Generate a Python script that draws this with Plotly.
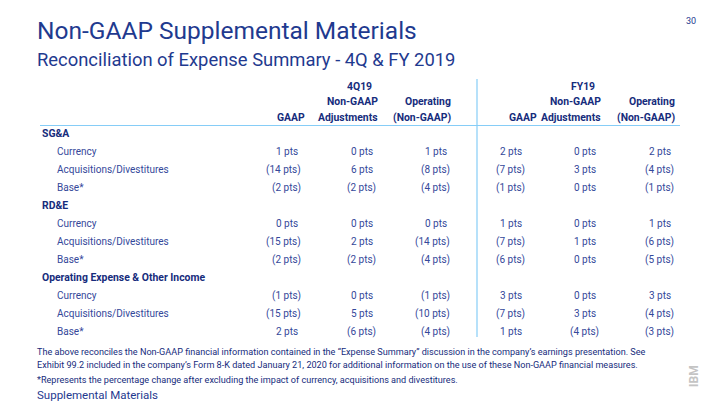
import plotly.graph_objects as go

# ---------------- data ----------------
sections = ["SG&A", "RD&E", "Operating Expense & Other Income"]
items = ["Currency", "Acquisitions/Divestitures", "Base*"]

period_labels = ["4Q19", "FY19"]
col_headers_top = ["", "Non-GAAP", "Operating", "", "Non-GAAP", "Operating"]
col_headers_bottom = ["GAAP", "Adjustments", "(Non-GAAP)", "GAAP", "Adjustments", "(Non-GAAP)"]

gaap_4q = ["1 pts", "(14 pts)", "(2 pts)", "0 pts", "(15 pts)", "(2 pts)", "(1 pts)", "(15 pts)", "2 pts"]
adj_4q = ["0 pts", "6 pts", "(2 pts)", "0 pts", "2 pts", "(2 pts)", "0 pts", "5 pts", "(6 pts)"]
op_4q = ["1 pts", "(8 pts)", "(4 pts)", "0 pts", "(14 pts)", "(4 pts)", "(1 pts)", "(10 pts)", "(4 pts)"]
gaap_fy = ["2 pts", "(7 pts)", "(1 pts)", "1 pts", "(7 pts)", "(6 pts)", "3 pts", "(7 pts)", "1 pts"]
adj_fy = ["0 pts", "3 pts", "0 pts", "0 pts", "1 pts", "0 pts", "0 pts", "3 pts", "(4 pts)"]
op_fy = ["2 pts", "(4 pts)", "(1 pts)", "1 pts", "(6 pts)", "(5 pts)", "3 pts", "(4 pts)", "(3 pts)"]

columns = [gaap_4q, adj_4q, op_4q, gaap_fy, adj_fy, op_fy]

title = "Non-GAAP Supplemental Materials"
subtitle = "Reconciliation of Expense Summary - 4Q & FY 2019"
page_no = "30"
footnote1 = ("The above reconciles the Non-GAAP financial information contained in the \u201cExpense Summary\u201d "
             "discussion in the company\u2019s earnings presentation. See")
footnote2 = ("Exhibit 99.2 included in the company\u2019s Form 8-K dated January 21, 2020 for additional "
             "information on the use of these Non-GAAP financial measures.")
footnote3 = "*Represents the percentage change after excluding the impact of currency, acquisitions and divestitures."
footer = "Supplemental Materials"

# ---------------- style ----------------
W, H = 720, 405
FONT = "Roboto"
C_TITLE = "#1f3a8f"
C_BOLD = "#162c7c"
C_TEXT = "#34489a"
C_LINE = "#86cdf7"
COL0_PX, COL_STEP_PX = 303.0, 74.6
ROW0_PX, ROW_STEP_PX = 133.5, 18.0

x0 = -COL0_PX / COL_STEP_PX
x1 = x0 + W / COL_STEP_PX
ytop = -ROW0_PX / ROW_STEP_PX
ybot = ytop + H / ROW_STEP_PX


def px2x(px):
    return (px - COL0_PX) / COL_STEP_PX


def px2y(py):
    return (py - ROW0_PX) / ROW_STEP_PX


fig = go.Figure()
fig.add_trace(go.Scatter(x=[0, 5], y=[0, 11], mode="markers", marker=dict(opacity=0),
                         hoverinfo="skip", showlegend=False))

ann = []

# row labels and values
row = 0
for s_i, sec in enumerate(sections):
    ann.append(dict(x=px2x(40), y=row, text="<b>%s</b>" % sec, xanchor="left", yanchor="middle",
                    font=dict(size=10.4, color=C_BOLD)))
    row += 1
    for it_i, it in enumerate(items):
        ann.append(dict(x=px2x(55), y=row, text=it, xanchor="left", yanchor="middle",
                        font=dict(size=10, color=C_TEXT)))
        idx = s_i * 3 + it_i
        for c_i, col in enumerate(columns):
            v = col[idx]
            ann.append(dict(x=c_i, y=row, text=v, xanchor="right", yanchor="middle",
                            xshift=0 if v.endswith(")") else -3,
                            font=dict(size=10, color=C_TEXT)))
        row += 1

# column headers
hdr_shift = [4, 2, 1, 12, 2, 1]
for c_i in range(6):
    ann.append(dict(x=c_i, y=px2y(117), text="<b>%s</b>" % col_headers_bottom[c_i], xanchor="right",
                    yanchor="middle", xshift=hdr_shift[c_i], font=dict(size=10.4, color=C_BOLD)))
    if col_headers_top[c_i]:
        ann.append(dict(x=c_i, y=px2y(101), text="<b>%s</b>" % col_headers_top[c_i], xanchor="right",
                        yanchor="middle", xshift=hdr_shift[c_i], font=dict(size=10.4, color=C_BOLD)))
for p_i, lab in enumerate(period_labels):
    ann.append(dict(x=1 + 3 * p_i, y=px2y(86), text="<b>%s</b>" % lab, xanchor="right", yanchor="middle",
                    xshift=-4, font=dict(size=10.4, color=C_BOLD)))

for a in ann:
    a.update(xref="x", yref="y", showarrow=False)

# titles & footnotes (paper coords)
def ptext(txt, xpx, ypx, size, color, anchor="left", angle=0):
    return dict(x=xpx / W, y=1 - ypx / H, xref="paper", yref="paper", text=txt, showarrow=False,
                xanchor=anchor, yanchor="middle", textangle=angle, font=dict(size=size, color=color))

ann += [
    ptext(title, 35, 31, 24.5, C_TITLE),
    ptext(subtitle, 35, 59, 18.4, C_TITLE),
    ptext(page_no, 684, 21, 9, C_TITLE),
    ptext(footnote1, 35, 352, 9.1, C_BOLD),
    ptext(footnote2, 35, 365, 9.1, C_BOLD),
    ptext(footnote3, 35, 380, 9.1, C_BOLD),
    ptext(footer, 35, 395, 11.5, C_TITLE),
    ptext("<b>IBM</b>", 694, 376, 12, "#c4c4c4", anchor="center", angle=-90),
]

shapes = [
    dict(type="line", xref="x", yref="y", x0=px2x(40), x1=px2x(680), y0=px2y(125.5), y1=px2y(125.5),
         line=dict(color=C_LINE, width=1.2)),
    dict(type="line", xref="x", yref="y", x0=px2x(477), x1=px2x(477), y0=px2y(79), y1=px2y(337),
         line=dict(color=C_LINE, width=1.2)),
]

fig.update_layout(
    width=W, height=H, margin=dict(l=0, r=0, t=0, b=0),
    paper_bgcolor="white", plot_bgcolor="white",
    font=dict(family=FONT),
    xaxis=dict(range=[x0, x1], visible=False, fixedrange=True),
    yaxis=dict(range=[ybot, ytop], visible=False, fixedrange=True),
    annotations=ann, shapes=shapes, showlegend=False,
)

fig.write_html("out.html", config={"displayModeBar": False})

# remove the browser's default page margin so the figure sits at the window origin
with open("out.html", "r", encoding="utf-8") as f:
    html = f.read()
html = html.replace("<body>", '<body style="margin:0;padding:0;overflow:hidden">', 1)
with open("out.html", "w", encoding="utf-8") as f:
    f.write(html)
